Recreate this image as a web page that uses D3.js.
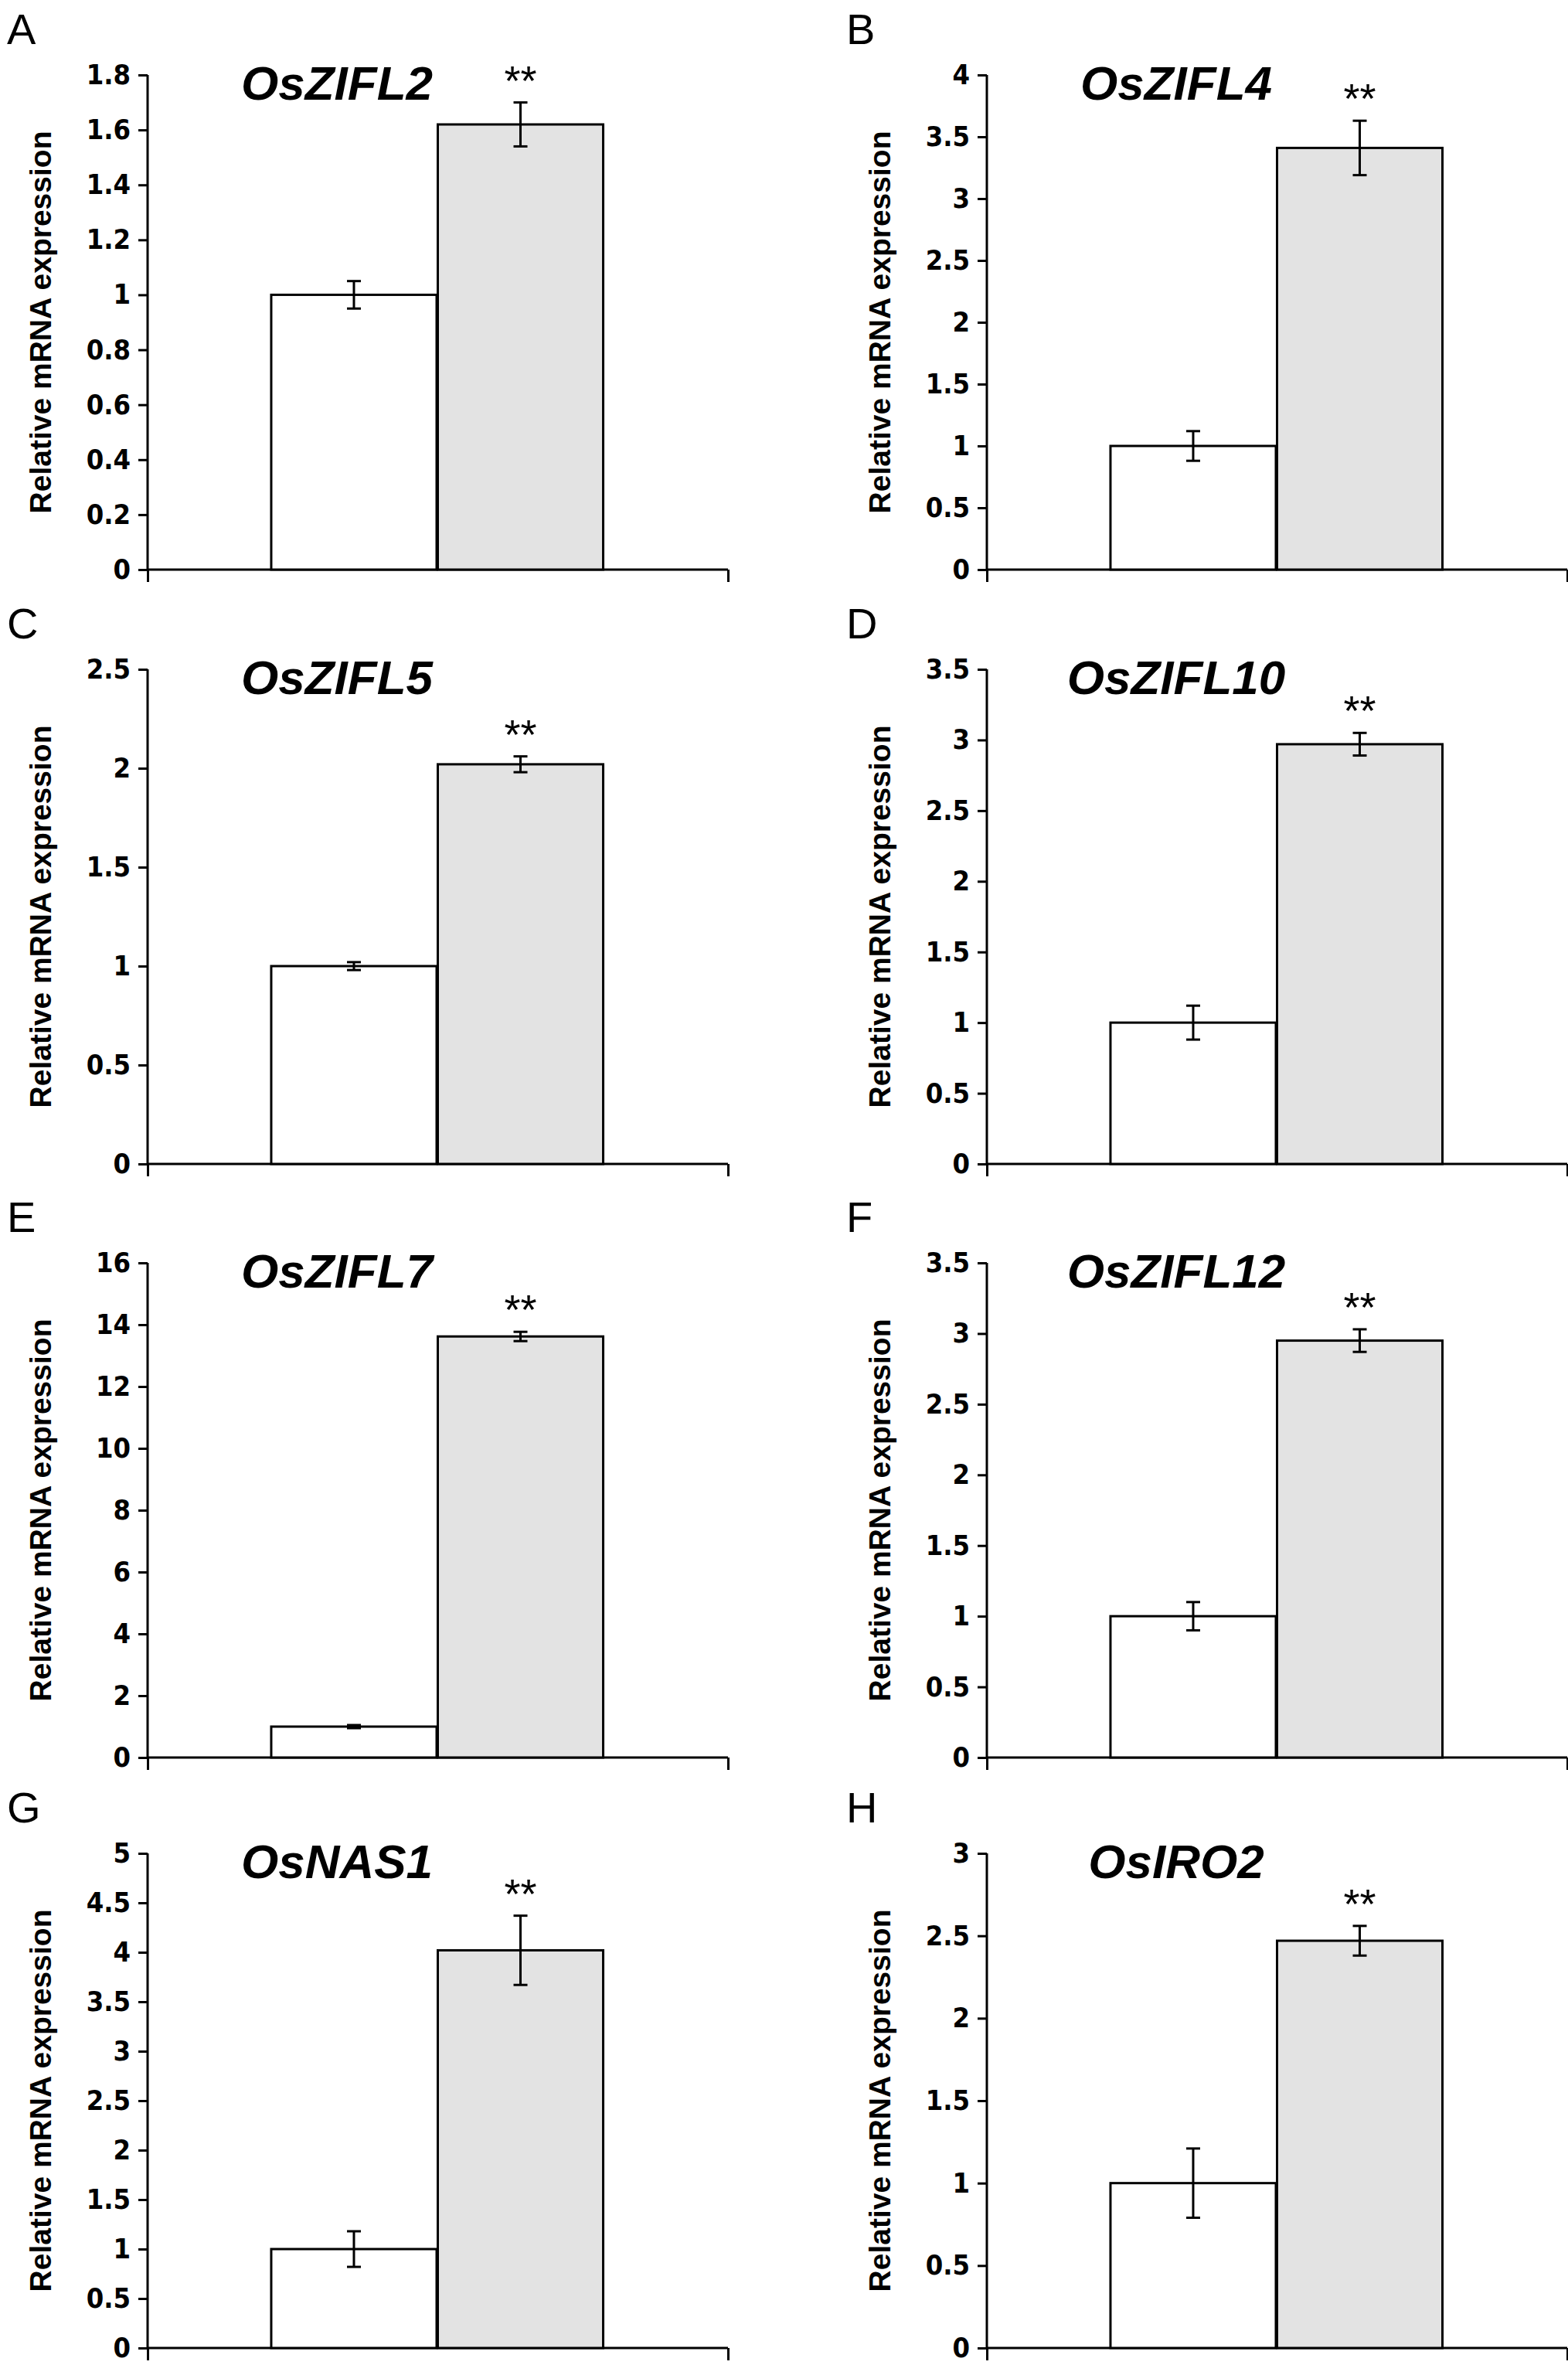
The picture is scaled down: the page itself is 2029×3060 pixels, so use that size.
<!DOCTYPE html>
<html><head><meta charset="utf-8">
<script src="https://cdn.jsdelivr.net/npm/d3@7"></script>
<style>body{margin:0;background:#fff}</style>
</head><body>
<svg width="2029" height="3060"></svg>
<script>
var letters = ["A","B","C","D","E","F","G","H"];
var genes = ["OsZIFL2","OsZIFL4","OsZIFL5","OsZIFL10","OsZIFL7","OsZIFL12","OsNAS1","OsIRO2"];
var controlVals = [1, 1, 1, 1, 1, 1, 1, 1];
var controlErr = [0.05, 0.12, 0.02, 0.12, 0.05, 0.1, 0.18, 0.21];
var treatVals = [1.62, 3.41, 2.02, 2.97, 13.62, 2.95, 4.02, 2.47];
var treatErr = [0.08, 0.22, 0.04, 0.08, 0.15, 0.08, 0.35, 0.09];
var yMax = [1.8, 4, 2.5, 3.5, 16, 3.5, 5, 3];
var yStep = [0.2, 0.5, 0.5, 0.5, 2, 0.5, 0.5, 0.5];

var svg = d3.select("svg");
var colX = [191, 1277], rowY = [97, 866, 1634, 2398];
var width = 751, height = 640;
var font = "'Liberation Sans Narrow','DejaVu Sans Condensed','Liberation Sans',Arial,sans-serif";

genes.forEach(function (gene, i) {
  var ox = colX[i % 2], oy = rowY[Math.floor(i / 2)];
  var g = svg.append("g").attr("transform", "translate(" + ox + "," + oy + ")");
  var xScale = d3.scaleLinear().domain([0, 1]).range([0, width]);
  var yScale = d3.scaleLinear().domain([0, yMax[i]]).range([height, 0]);
  var ticks = d3.range(0, yMax[i] + yStep[i] / 2, yStep[i]);

  // letter
  svg.append("text").attr("x", ox - 182).attr("y", oy - 40)
    .attr("font-family", "'Liberation Sans',Arial,sans-serif").attr("font-size", 56)
    .text(letters[i]);

  // y axis
  var ya = g.append("g").call(d3.axisLeft(yScale).tickValues(ticks).tickSize(12).tickPadding(10)
    .tickFormat(function (d) { return +d.toFixed(1); }));
  ya.selectAll("path,line").attr("stroke", "#000").attr("stroke-width", 3);
  ya.select(".domain").attr("d", "M0," + height + "V0");
  ya.selectAll("text").attr("font-family", font).attr("font-weight", "bold").attr("font-size", 36).attr("fill", "#000");

  // x axis
  var xa = g.append("g").attr("transform", "translate(0," + height + ")")
    .call(d3.axisBottom(xScale).tickValues([0, 1]).tickSize(16).tickFormat(""));
  xa.selectAll("path,line").attr("stroke", "#000").attr("stroke-width", 3);
  xa.select(".domain").attr("d", "M0,0H" + width);

  // y label
  g.append("text").attr("transform", "translate(-125," + height / 2 + ") rotate(-90)")
    .attr("text-anchor", "middle").attr("font-family", "'Liberation Sans',Arial,sans-serif")
    .attr("font-weight", "bold").attr("font-size", 39).text("Relative mRNA expression");

  var bars = [
    {v: controlVals[i], e: controlErr[i], x0: 0.213, fill: "#fff"},
    {v: treatVals[i], e: treatErr[i], x0: 0.5, fill: "#e3e3e3"}
  ];
  var bw = 0.285;
  g.selectAll(".bar").data(bars).enter().append("rect")
    .attr("x", function (d) { return xScale(d.x0); })
    .attr("y", function (d) { return yScale(d.v); })
    .attr("width", xScale(bw) - xScale(0))
    .attr("height", function (d) { return height - yScale(d.v); })
    .attr("fill", function (d) { return d.fill; })
    .attr("stroke", "#000").attr("stroke-width", 3);

  bars.forEach(function (d) {
    var cx = xScale(d.x0 + bw / 2);
    var eb = g.append("g").attr("stroke", "#000").attr("stroke-width", 3);
    eb.append("line").attr("x1", cx).attr("x2", cx).attr("y1", yScale(d.v - d.e)).attr("y2", yScale(d.v + d.e));
    [d.v - d.e, d.v + d.e].forEach(function (y) {
      eb.append("line").attr("x1", cx - 9).attr("x2", cx + 9).attr("y1", yScale(y)).attr("y2", yScale(y));
    });
  });

  // title and significance
  g.append("text").attr("x", 245).attr("y", 32).attr("text-anchor", "middle")
    .attr("font-family", "'Liberation Sans',Arial,sans-serif").attr("font-weight", "bold")
    .attr("font-style", "italic").attr("font-size", 62).text(gene);
  var top = bars[1];
  g.append("text").attr("x", xScale(top.x0 + bw / 2)).attr("y", yScale(top.v + top.e) - 10)
    .attr("text-anchor", "middle").attr("font-family", "'Liberation Sans',Arial,sans-serif")
    .attr("font-size", 54).text("**");
});
</script>
</body></html>
